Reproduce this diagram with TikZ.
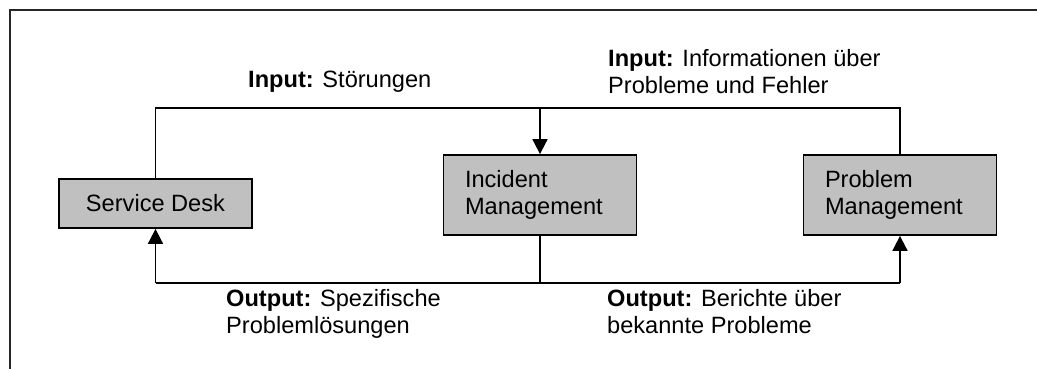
\documentclass[tikz,border=0pt]{standalone}
\usepackage{fontspec}
\setmainfont{Liberation Sans}
\usetikzlibrary{arrows.meta}
\definecolor{boxgray}{RGB}{192,192,192}
\begin{document}
\begin{tikzpicture}[x=1pt,y=-1pt,
  every node/.style={font=\fontsize{23.6}{26.5}\selectfont},
  procbox/.style={draw=black, line width=1.8pt, fill=boxgray, inner ysep=0pt},
  twoline/.style={procbox, minimum width=193pt, minimum height=80pt,
    text width=150pt, inner xsep=21.5pt, align=left},
  flowtext/.style={anchor=base west, inner sep=0pt, align=left},
  link/.style={line width=1.8pt},
  tip/.style={link, -{Triangle[length=15pt,width=15pt]}}]
\useasboundingbox (0,0) rectangle (1037,369);

% open frame: top and left edges only
\draw[line width=1.8pt, black!85] (10,369) -- (10,10) -- (1037,10);

% process boxes
\node[procbox, minimum width=193pt, minimum height=49pt] (sd) at (155.5,203.5) {Service Desk};
\node[twoline] (im) at (540,195) {Incident\\Management};
\node[twoline] (pm) at (900,195) {Problem\\Management};

% bus levels
\coordinate (top) at (540,108);
\coordinate (bot) at (540,283);

% input bus above the boxes
\draw[link] (sd.north) -- (sd.north |- top) -- (pm.north |- top) -- (pm.north);
\draw[tip] (im.north |- top) -- (im.north);

% output bus below the boxes
\draw[link] (im.south) -- (bot);
\draw[link] (sd.south |- bot) -- (pm.south |- bot);
\draw[tip] (sd.south |- bot) -- (sd.south);
\draw[tip] (pm.south |- bot) -- (pm.south);

% flow labels (base anchor sits on the last line)
\node[flowtext] (in1) at (248,88) {\textbf{Input:} Störungen};
\node[flowtext] (in2) at (608,93) {\textbf{Input:} Informationen über\\Probleme und Fehler};
\node[flowtext] (out1) at (226,333) {\textbf{Output:} Spezifische\\Problemlösungen};
\node[flowtext] (out2) at (607,333) {\textbf{Output:} Berichte über\\bekannte Probleme};
\end{tikzpicture}
\end{document}
